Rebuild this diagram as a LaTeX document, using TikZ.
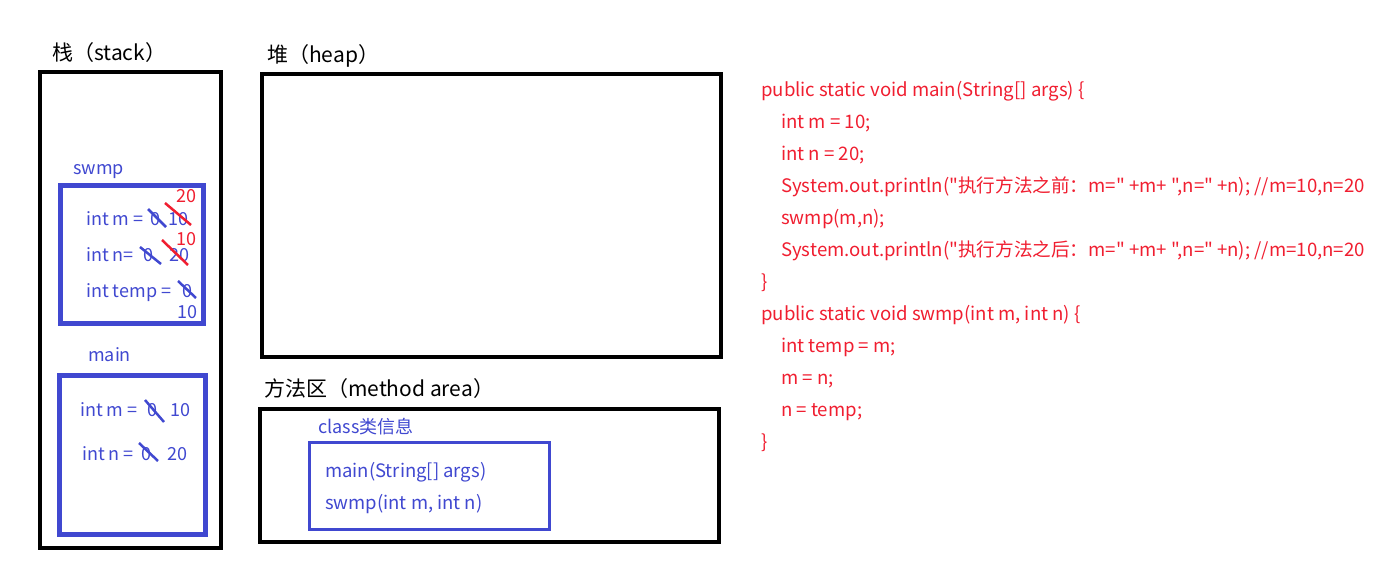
\documentclass[tikz,border=0pt]{standalone}
\usepackage{fontspec}
\newfontfamily\cjkf{Noto Sans CJK SC}
\definecolor{jblue}{RGB}{64,72,208}
\definecolor{jred}{RGB}{240,30,48}
\begin{document}
\begin{tikzpicture}[x=1pt,y=-1pt,
  txt/.style={inner sep=0pt,anchor=base west},
  title/.style={txt,font=\cjkf\fontsize{21}{24}\selectfont,text=black},
  btxt/.style={txt,font=\cjkf\fontsize{18}{20}\selectfont,text=jblue},
  ctxt/.style={txt,font=\cjkf\fontsize{18.5}{20}\selectfont,text=jblue},
  rtxt/.style={txt,font=\cjkf\fontsize{18}{20}\selectfont,text=jred},
  code/.style={txt,font=\cjkf\fontsize{18.6}{20}\selectfont,text=jred},
  area/.style={draw=black,line width=4pt},
  frame/.style={draw=jblue,line width=5pt},
  bstrike/.style={draw=jblue,line width=2.5pt},
  rstrike/.style={draw=jred,line width=2.5pt}]
\useasboundingbox (0,0) rectangle (1386,578);
% areas
\draw[area] (40,72) rectangle (221,548);
\draw[area] (262,74) rectangle (721,357);
\draw[area] (260,409) rectangle (719,542);
\node[title] (tstack) at (52,61) {栈（stack）};
\node[title] (theap) at (267,63) {堆（heap）};
\node[title] (tmeth) at (264,396) {方法区（method area）};
% swmp frame
\node[btxt] (lswmp) at (73,174) {swmp};
\draw[frame] (60,185) rectangle (203,323);
\node[btxt] (sm) at (86,225) {int m =};
\node[btxt] (sm0) at (150,225) {0};
\node[btxt] (sm10) at (168,225) {10};
\node[rtxt] (sm20) at (176,202) {20};
\draw[bstrike] (148,209) -- (166,227);
\draw[rstrike] (165,203) -- (191,225);
\node[btxt] (sn) at (86,261) {int n=};
\node[btxt] (sn0) at (143,261) {0};
\node[btxt] (sn20) at (169,261) {20};
\node[rtxt] (sn10) at (176,245) {10};
\draw[bstrike] (140,247) -- (161,264);
\draw[rstrike] (162,240) -- (188,265);
\node[btxt] (st) at (86,297) {int temp =};
\node[btxt] (st0) at (182,297) {0};
\node[btxt] (st10) at (177,318) {10};
\draw[bstrike] (178,281) -- (196,298);
% main frame
\node[btxt] (lmain) at (88,361) {main};
\draw[frame] (59,375) rectangle (205,534);
\node[btxt] (mm) at (80,416) {int m =};
\node[btxt] (mm0) at (147,416) {0};
\node[btxt] (mm10) at (170,416) {10};
\draw[bstrike] (145,400) -- (164,422);
\node[btxt] (mn) at (82,460) {int n =};
\node[btxt] (mn0) at (141,460) {0};
\node[btxt] (mn20) at (167,460) {20};
\draw[bstrike] (139,443) -- (158,461);
% class info
\node[btxt] (lclass) at (318,433) {class类信息};
\draw[draw=jblue,line width=3pt] (309,442) rectangle (549,529);
\node[ctxt] (c1) at (325,477) {main(String[] args)};
\node[ctxt] (c2) at (325,509) {swmp(int m, int n)};
% code
\node[code] (l1) at (761,96) {public static void main(String[] args) \{};
\node[code] (l2) at (781,128) {int m = 10;};
\node[code] (l3) at (781,160) {int n = 20;};
\node[code] (l4) at (781,192) {System.out.println("执行方法之前：m=" +m+ ",n=" +n); //m=10,n=20};
\node[code] (l5) at (781,224) {swmp(m,n);};
\node[code] (l6) at (781,256) {System.out.println("执行方法之后：m=" +m+ ",n=" +n); //m=10,n=20};
\node[code] (l7) at (761,288) {\}};
\node[code] (l8) at (761,320) {public static void swmp(int m, int n) \{};
\node[code] (l9) at (781,352) {int temp = m;};
\node[code] (l10) at (781,384) {m = n;};
\node[code] (l11) at (781,416) {n = temp;};
\node[code] (l12) at (761,448) {\}};
\end{tikzpicture}
\end{document}
